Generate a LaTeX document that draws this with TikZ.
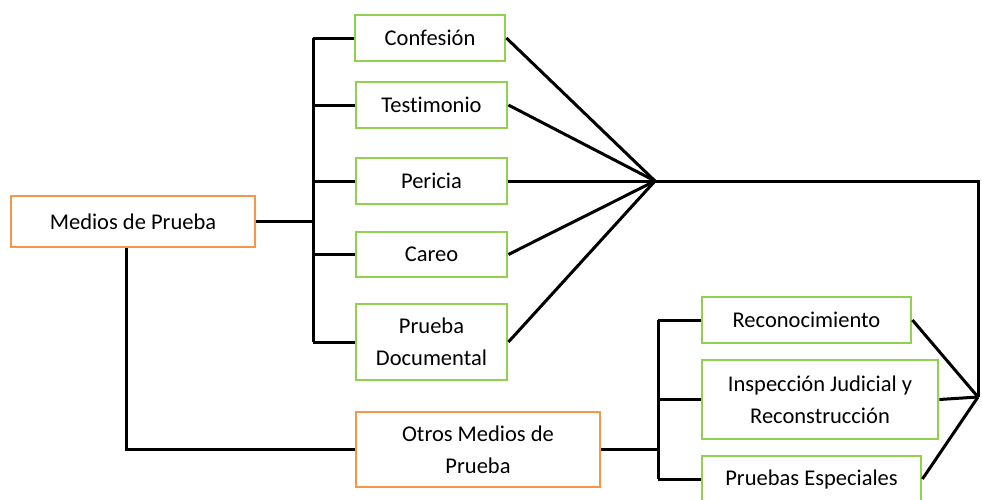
\documentclass[tikz,border=0pt]{standalone}
\usepackage{fontspec}
\setmainfont{Carlito}[Ligatures=NoCommon]
\usepackage{xcolor}
\definecolor{boxgreen}{RGB}{146,208,80}
\definecolor{boxorange}{RGB}{247,150,70}
\usetikzlibrary{positioning}

\begin{document}
\begin{tikzpicture}[x=1pt, y=-1pt, font=\fontsize{22.5}{32}\selectfont,
    mainbox/.style={draw=boxorange, line width=2.8pt, align=center, inner sep=0pt},
    subbox/.style={draw=boxgreen, line width=2.8pt, align=center, inner sep=0pt},
    link/.style={line width=3pt}]
    \useasboundingbox (0,0) rectangle (982,499);
    % main boxes
    \node[mainbox, minimum width=244pt, minimum height=51pt] (med) at (133,221.5) {Medios de Prueba};
    \node[mainbox, minimum width=244pt, minimum height=75pt] (otros) at (478,449.5) {Otros Medios de\\Prueba};
    % first group
    \node[subbox, minimum width=150pt, minimum height=46pt] (conf) at (430,38) {Confesión};
    \node[subbox, minimum width=151pt, minimum height=46pt] (test) at (431.5,105) {Testimonio};
    \node[subbox, minimum width=151pt, minimum height=46pt] (peri) at (431.5,181) {Pericia};
    \node[subbox, minimum width=151pt, minimum height=45pt] (care) at (431.5,254.5) {Careo};
    \node[subbox, minimum width=151pt, minimum height=76pt] (pdoc) at (431.5,342) {Prueba\\Documental};
    % second group
    \node[subbox, minimum width=209pt, minimum height=46pt] (reco) at (806.5,320) {Reconocimiento};
    \node[subbox, minimum width=236pt, minimum height=79pt] (insp) at (820,399.5) {Inspección Judicial y\\Reconstrucción};
    \node[subbox, minimum width=219pt, minimum height=46pt] (pesp) at (811.5,479) {Pruebas Especiales};
    % junctions
    \coordinate (bus1) at (313,221.5);
    \coordinate (bus2) at (658,449.5);
    \coordinate (hub1) at (655,181);
    \coordinate (hub2) at (978,397);
    % brackets
    \draw[link] (med.east) -- (bus1);
    \draw[link] (conf.west -| bus1) -- (pdoc.west -| bus1);
    \foreach \n in {conf,test,peri,care,pdoc}
        \draw[link] (\n.west -| bus1) -- (\n.west);
    \draw[link] (otros.east) -- (bus2);
    \draw[link] (reco.west -| bus2) -- (pesp.west -| bus2);
    \foreach \n in {reco,insp,pesp}
        \draw[link] (\n.west -| bus2) -- (\n.west);
    \draw[link] ([xshift=-7pt]med.south) |- (otros.west);
    % fans
    \foreach \n in {conf,test,peri,care,pdoc}
        \draw[link] (\n.east) -- (hub1);
    \foreach \n in {reco,insp,pesp}
        \draw[link] (\n.east) -- (hub2);
    \draw[link] (hub1) -- (hub1 -| hub2) -- (hub2);
\end{tikzpicture}
\end{document}
